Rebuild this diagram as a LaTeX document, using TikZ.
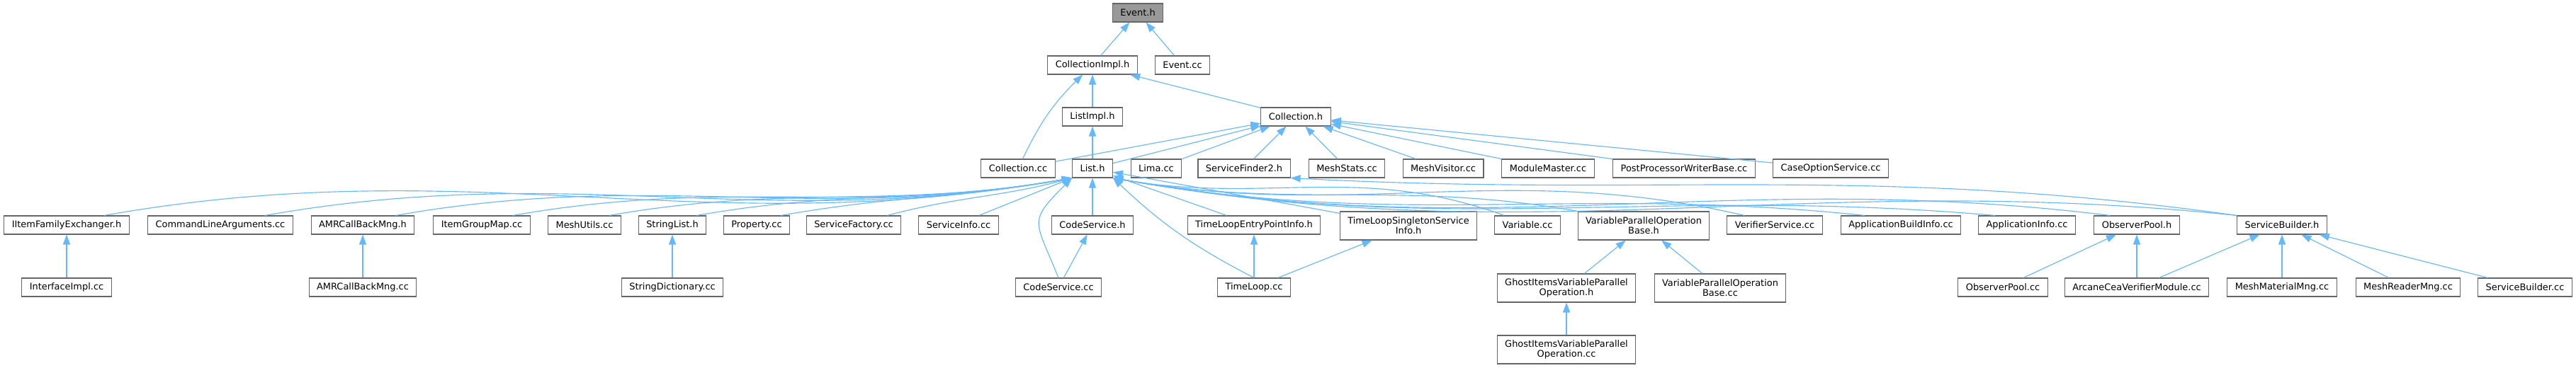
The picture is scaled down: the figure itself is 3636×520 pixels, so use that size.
\documentclass[tikz,border=0pt]{standalone}
\usepackage{fontspec}
\setmainfont{DejaVu Sans}
\usepackage{tikz}
\usetikzlibrary{arrows.meta}

\definecolor{inclblue}{HTML}{63B8FF}
\definecolor{fileline}{HTML}{666666}
\definecolor{curfill}{HTML}{999999}

\begin{document}
\begin{tikzpicture}[
      x=0.02cm, y=0.02cm,
      fbox/.style  = {rectangle, draw=fileline, fill=white, line width=0.6pt,
                      minimum height=0.52cm, inner xsep=0.22cm, inner ysep=0pt,
                      font=\fontsize{7.36}{7.8}\selectfont},
      fbox2/.style = {fbox, align=center, minimum height=0.8cm},
      fcur/.style  = {fbox, fill=curfill},
      incl/.style  = {draw=inclblue, line width=0.65pt,
                      {Triangle[length=0.28cm, width=0.2cm]}-},
    ]
    \useasboundingbox (0,0) rectangle (3636,520);

    %% ------------------------------------------------ rows 0 to 2
    \node[fcur] (evh) at (1606,502) {Event.h};
    \node[fbox] (cimh) at (1542,428) {CollectionImpl.h};
    \node[fbox] (evcc) at (1669,428) {Event.cc};
    \node[fbox] (limh) at (1542,355) {ListImpl.h};
    \node[fbox] (colh) at (1829,355) {Collection.h};

    %% ------------------------------------------------ row 3
    \node[fbox] (colcc) at (1437,282) {Collection.cc};
    \node[fbox] (lsth)  at (1542,282) {List.h};
    \node[fbox] (lima)  at (1632,282) {Lima.cc};
    \node[fbox] (sf2h)  at (1756,282) {ServiceFinder2.h};
    \node[fbox] (mstat) at (1901,282) {MeshStats.cc};
    \node[fbox] (mvis)  at (2037,282) {MeshVisitor.cc};
    \node[fbox] (modm)  at (2185,282) {ModuleMaster.cc};
    \node[fbox] (ppwb)  at (2377,282) {PostProcessorWriterBase.cc};
    \node[fbox] (cos)   at (2584,282) {CaseOptionService.cc};

    %% ------------------------------------------------ row 4
    \node[fbox]  (ife)   at (94,202)   {IItemFamilyExchanger.h};
    \node[fbox]  (cla)   at (311,202)  {CommandLineArguments.cc};
    \node[fbox]  (amrh)  at (512,202)  {AMRCallBackMng.h};
    \node[fbox]  (igm)   at (680,202)  {ItemGroupMap.cc};
    \node[fbox]  (mutl)  at (825,202)  {MeshUtils.cc};
    \node[fbox]  (strl)  at (949,202)  {StringList.h};
    \node[fbox]  (prop)  at (1068,202) {Property.cc};
    \node[fbox]  (sfac)  at (1205,202) {ServiceFactory.cc};
    \node[fbox]  (sinf)  at (1353,202) {ServiceInfo.cc};
    \node[fbox]  (csh)   at (1542,202) {CodeService.h};
    \node[fbox]  (tlep)  at (1770,202) {TimeLoopEntryPointInfo.h};
    \node[fbox2] (tlss)  at (1988,201) {TimeLoopSingletonService\\Info.h};
    \node[fbox]  (varcc) at (2156,202) {Variable.cc};
    \node[fbox2] (vpob)  at (2320,201) {VariableParallelOperation\\Base.h};
    \node[fbox]  (vsrv)  at (2505,202) {VerifierService.cc};
    \node[fbox]  (abi)   at (2683,202) {ApplicationBuildInfo.cc};
    \node[fbox]  (ainf)  at (2861,202) {ApplicationInfo.cc};
    \node[fbox]  (obph)  at (3016,202) {ObserverPool.h};
    \node[fbox]  (sbh)   at (3221,202) {ServiceBuilder.h};

    %% ------------------------------------------------ rows 5 and 6
    \node[fbox]  (iimp)  at (94,114)   {InterfaceImpl.cc};
    \node[fbox]  (amrcc) at (512,114)  {AMRCallBackMng.cc};
    \node[fbox]  (sdic)  at (949,114)  {StringDictionary.cc};
    \node[fbox]  (cscc)  at (1494,114) {CodeService.cc};
    \node[fbox]  (tlcc)  at (1770,114) {TimeLoop.cc};
    \node[fbox2] (givh)  at (2211,113) {GhostItemsVariableParallel\\Operation.h};
    \node[fbox2] (vpocc) at (2428,113) {VariableParallelOperation\\Base.cc};
    \node[fbox]  (obpcc) at (2827,114) {ObserverPool.cc};
    \node[fbox]  (acvm)  at (3016,114) {ArcaneCeaVerifierModule.cc};
    \node[fbox]  (mmat)  at (3221,114) {MeshMaterialMng.cc};
    \node[fbox]  (mrdr)  at (3399,114) {MeshReaderMng.cc};
    \node[fbox]  (sbcc)  at (3564,114) {ServiceBuilder.cc};
    \node[fbox2] (givcc) at (2211,26)  {GhostItemsVariableParallel\\Operation.cc};

    %% ------------------------------------------------ Event.h, CollectionImpl.h, ListImpl.h
    \draw[incl] (evh) -- (cimh);
    \draw[incl] (evh) -- (evcc);
    \draw[incl] (cimh) to[bend right=10] (colcc);
    \draw[incl] (cimh) -- (limh);
    \draw[incl] (cimh) -- (colh);
    \draw[incl] (limh) -- (lsth);

    %% ------------------------------------------------ Collection.h
    \draw[incl] (colh) -- (colcc);
    \draw[incl] (colh) -- (lsth);
    \draw[incl] (colh) -- (lima);
    \draw[incl] (colh) -- (sf2h);
    \draw[incl] (colh) -- (mstat);
    \draw[incl] (colh) -- (mvis);
    \draw[incl] (colh) -- (modm);
    \draw[incl] (colh) -- (ppwb);
    \draw[incl] (colh) -- (cos);

    %% ------------------------------------------------ List.h, left side
    \draw[incl] (lsth.south west) to[out=190, in=10] ([xshift=-0.72cm]ife.north east);
    \draw[incl] (lsth.south west) to[out=190, in=10] ([xshift=-0.8cm]cla.north east);
    \draw[incl] (lsth.south west) to[out=190, in=10] ([xshift=-0.54cm]amrh.north east);
    \draw[incl] (lsth.south west) to[out=190, in=10] ([xshift=-0.5cm]igm.north east);
    \draw[incl] (lsth.south west) to[out=190, in=10] ([xshift=-0.34cm]mutl.north east);
    \draw[incl] (lsth.south west) to[out=190, in=10] ([xshift=-0.28cm]strl.north east);
    \draw[incl] (lsth.south west) to[out=190, in=10] ([xshift=-0.26cm]prop.north east);
    \draw[incl] (lsth.south west) to[out=195, in=15] ([xshift=-0.4cm]sfac.north east);
    \draw[incl] (lsth.south west) -- ([xshift=-0.56cm]sinf.north east);
    \draw[incl] (lsth.south west) to[out=225, in=112, looseness=1.6] (cscc.north);
    \draw[incl] (lsth) -- (csh);
    \draw[incl] (lsth.south east) to[bend right=8] (tlcc.north);

    %% ------------------------------------------------ List.h, right side
    \draw[incl] (lsth) -- (tlep);
    \draw[incl] (lsth) -- (tlss);
    \draw[incl] (lsth.south east) to[out=-10, in=160] ([xshift=0.28cm]varcc.north west);
    \draw[incl] (lsth.south east) to[out=-10, in=170] (vpob.north west);
    \draw[incl] (lsth.south east) to[out=-10, in=167] ([xshift=0.5cm]vsrv.north west);
    \draw[incl] (lsth.south east) to[out=-10, in=174] ([xshift=0.68cm]abi.north west);
    \draw[incl] (lsth.south east) to[out=-10, in=175] ([xshift=0.48cm]ainf.north west);
    \draw[incl] (lsth.south east) to[out=-10, in=173] ([xshift=0.46cm]obph.north west);
    \draw[incl] (lsth.south east) to[out=-10, in=174] (sbh.north west);
    \draw[incl] (sf2h.south east) to[out=-3, in=172] (sbh.north west);

    %% ------------------------------------------------ lower rows
    \draw[incl] (ife) -- (iimp);
    \draw[incl] (amrh) -- (amrcc);
    \draw[incl] (strl) -- (sdic);
    \draw[incl] (csh) -- (cscc);
    \draw[incl] (tlep) -- (tlcc);
    \draw[incl] (tlss) -- (tlcc);
    \draw[incl] (vpob) -- (givh);
    \draw[incl] (vpob) -- (vpocc);
    \draw[incl] (givh) -- (givcc);
    \draw[incl] (obph) -- (obpcc);
    \draw[incl] (obph) -- (acvm);
    \draw[incl] (sbh) -- (acvm);
    \draw[incl] (sbh) -- (mmat);
    \draw[incl] (sbh) -- (mrdr);
    \draw[incl] (sbh) -- (sbcc);
  \end{tikzpicture}
\end{document}
